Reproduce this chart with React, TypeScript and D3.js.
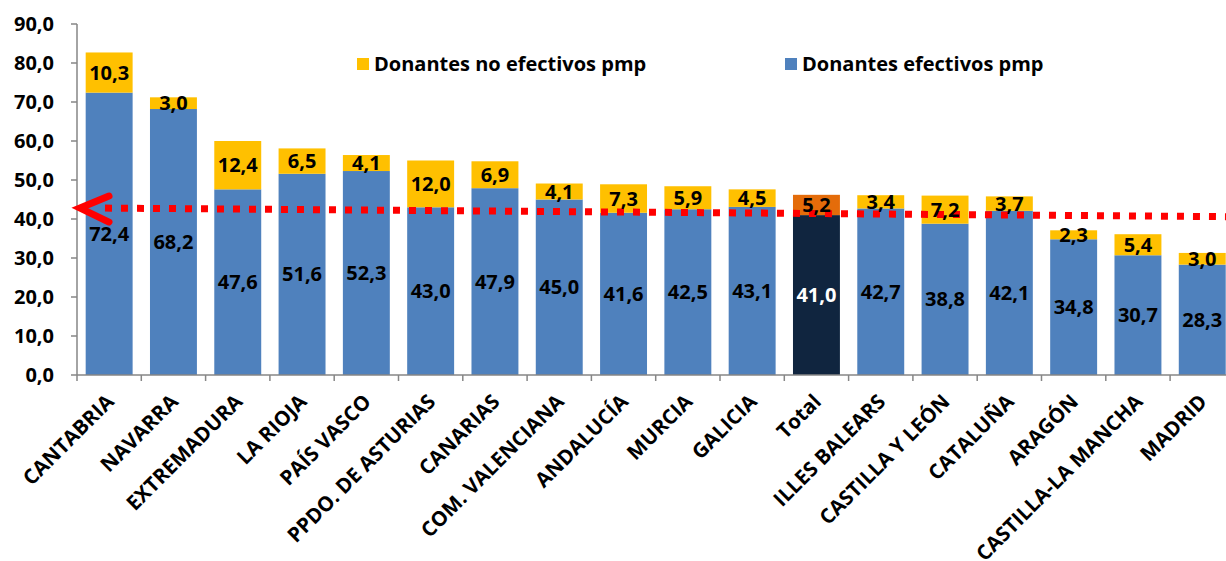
import React from "react";
import * as d3 from "d3";

const categories = ["CANTABRIA","NAVARRA","EXTREMADURA","LA RIOJA","PAÍS VASCO","PPDO. DE ASTURIAS","CANARIAS","COM. VALENCIANA","ANDALUCÍA","MURCIA","GALICIA","Total","ILLES BALEARS","CASTILLA Y LEÓN","CATALUÑA","ARAGÓN","CASTILLA-LA MANCHA","MADRID"];
const efectivos = [72.4,68.2,47.6,51.6,52.3,43.0,47.9,45.0,41.6,42.5,43.1,41.0,42.7,38.8,42.1,34.8,30.7,28.3];
const noEfectivos = [10.3,3.0,12.4,6.5,4.1,12.0,6.9,4.1,7.3,5.9,4.5,5.2,3.4,7.2,3.7,2.3,5.4,3.0];
const yTicks = [0,10,20,30,40,50,60,70,80,90];
const trendStart = 42.8;
const trendEnd = 40.6;

const W = 1226, H = 561;
const FONT = "'Open Sans', Lato, sans-serif";

export default function App() {
  const x0 = 77, bandW = 64.3;
  const x = d3.scaleBand<string>().domain(categories).range([x0, x0 + bandW * categories.length]).paddingInner(0.27).paddingOuter(0.135);
  const y = d3.scaleLinear().domain([0, 90]).range([375, 24]);
  const fmt = (v: number) => v.toFixed(1).replace(".", ",");
  const blue = "#4F81BD", yellow = "#FFC000", navy = "#10253F", orange = "#E46C0A";
  const axisColor = "#868686";
  return (
    <svg width={W} height={H} style={{ position: "absolute", left: 0, top: 0, background: "#fff" }} fontFamily={FONT}>
      {/* y axis */}
      <line x1={x0} x2={x0} y1={y(90)} y2={y(0)} stroke={axisColor} strokeWidth={1.5} />
      {yTicks.map(t => (
        <g key={t}>
          <line x1={x0 - 6} x2={x0} y1={y(t)} y2={y(t)} stroke={axisColor} strokeWidth={1.5} />
          <text x={54} y={y(t)} dy="0.35em" textAnchor="end" fontSize={20} fontWeight={700} fill="#000">{fmt(t)}</text>
        </g>
      ))}
      {/* bars */}
      {categories.map((c, i) => {
        const bx = x(c)!;
        const isTotal = c === "Total";
        const e = efectivos[i], n = noEfectivos[i];
        return (
          <g key={c}>
            <rect x={bx} width={x.bandwidth()} y={y(e)} height={y(0) - y(e)} fill={isTotal ? navy : blue} />
            <rect x={bx} width={x.bandwidth()} y={y(e + n)} height={y(e) - y(e + n)} fill={isTotal ? orange : yellow} />
          </g>
        );
      })}
      {/* x axis */}
      <line x1={x0} x2={W} y1={y(0)} y2={y(0)} stroke={axisColor} strokeWidth={1.5} />
      {d3.range(categories.length + 1).map(k => (
        <line key={k} x1={x0 + k * bandW} x2={x0 + k * bandW} y1={y(0)} y2={y(0) + 6} stroke={axisColor} strokeWidth={1.5} />
      ))}
      {/* trend line */}
      <line x1={105} x2={W} y1={y(trendStart)} y2={y(trendEnd)} stroke="#FF0000" strokeWidth={7} strokeDasharray="7 9" />
      <polyline points={`${x0 + 32},${y(trendStart) - 12} ${x0 + 3},${y(trendStart)} ${x0 + 32},${y(trendStart) + 14}`} fill="none" stroke="#FF0000" strokeWidth={7} strokeLinecap="round" strokeLinejoin="miter" />
      {/* value labels */}
      {categories.map((c, i) => {
        const cx = x(c)! + x.bandwidth() / 2;
        const e = efectivos[i], n = noEfectivos[i];
        const isTotal = c === "Total";
        return (
          <g key={c} fontSize={20} fontWeight={700} textAnchor="middle">
            <text x={cx} y={y(e / 2)} dy="0.35em" fill={isTotal ? "#fff" : "#000"}>{fmt(e)}</text>
            <text x={cx} y={y(e + n / 2)} dy="0.35em" fill="#000">{fmt(n)}</text>
          </g>
        );
      })}
      {/* x labels */}
      {categories.map(c => {
        const cx = x(c)! + x.bandwidth() / 2;
        return (
          <text key={c} transform={`translate(${cx + 6},${403}) rotate(-45)`} textAnchor="end" fontSize={20.5} fontWeight={700} fill="#000">{c}</text>
        );
      })}
      {/* legend */}
      <rect x={357} y={58} width={12} height={12} fill={yellow} />
      <text x={374} y={64} dy="0.35em" fontSize={20} fontWeight={700} fill="#000">Donantes no efectivos pmp</text>
      <rect x={785} y={58} width={12} height={12} fill={blue} />
      <text x={802} y={64} dy="0.35em" fontSize={20} fontWeight={700} fill="#000">Donantes efectivos pmp</text>
    </svg>
  );
}
